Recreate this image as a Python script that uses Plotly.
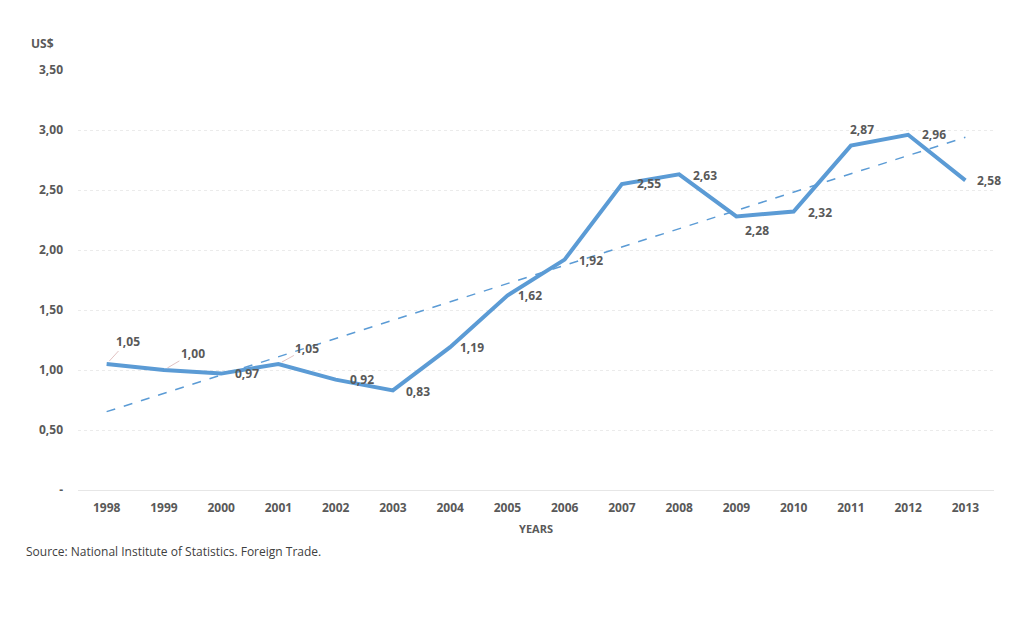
import numpy as np
import plotly.graph_objects as go

years = ["1998", "1999", "2000", "2001", "2002", "2003", "2004", "2005",
         "2006", "2007", "2008", "2009", "2010", "2011", "2012", "2013"]
values = [1.05, 1.00, 0.97, 1.05, 0.92, 0.83, 1.19, 1.62,
          1.92, 2.55, 2.63, 2.28, 2.32, 2.87, 2.96, 2.58]
y_tickvals = [0, 0.5, 1.0, 1.5, 2.0, 2.5, 3.0, 3.5]
y_ticktext = ["-", "0,50", "1,00", "1,50", "2,00", "2,50", "3,00", "3,50"]

# linear trendline computed from the data
idx = np.arange(len(values))
slope, intercept = np.polyfit(idx, values, 1)
trend = slope * idx + intercept

BLUE = "#5B9BD5"
TXT = "#595959"
FONT = "Open Sans"

fig = go.Figure()
fig.add_trace(go.Scatter(x=years, y=values, mode="lines",
                         line=dict(color=BLUE, width=4), showlegend=False))
fig.add_trace(go.Scatter(x=years, y=trend, mode="lines",
                         line=dict(color=BLUE, width=1.5, dash="dash"),
                         showlegend=False))

# label placement (pixel offsets) and whether a leader line is drawn
label_style = [
    (21, -23, True), (29, -17, True), (26, 0, False), (29, -16, True),
    (26, 0, False), (25, 1, False), (22, 0, False), (23, 0, False),
    (26, 1, False), (27, -1, False), (26, 1, False), (21, 14, False),
    (26, 1, False), (11, -16, False), (26, 0, False), (24, 0, False),
]

lab_font = dict(family=FONT, size=12, color=TXT, weight="bold")
for i, (v, (dx, dy, leader)) in enumerate(zip(values, label_style)):
    txt = f"{v:.2f}".replace(".", ",")
    if leader:
        fig.add_annotation(x=i, y=v, xref="x", yref="y", text=txt,
                           showarrow=True, ax=dx, ay=dy, arrowhead=0,
                           arrowwidth=0.8, arrowcolor="#d9b3b3", standoff=4,
                           font=lab_font)
    else:
        fig.add_annotation(x=i, y=v, xref="x", yref="y", text=txt,
                           showarrow=False, xshift=dx, yshift=-dy,
                           font=lab_font)

W, H = 1024, 636
ml, mr, mt, mb = 78, 30, 70, 146
pw, ph = W - ml - mr, H - mt - mb

def px_to_paper(px, py):
    return (px - ml) / pw, 1 - (py - mt) / ph

ux, uy = px_to_paper(42, 43)
sx, sy = px_to_paper(24, 551)
fig.add_annotation(text="US$", x=ux, y=uy, xref="paper", yref="paper",
                   showarrow=False, xanchor="center", yanchor="middle",
                   font=dict(family=FONT, size=12, color=TXT, weight="bold"))
fig.add_annotation(text="Source: National Institute of Statistics. Foreign Trade.",
                   x=sx, y=sy, xref="paper", yref="paper", showarrow=False,
                   xanchor="left", yanchor="middle",
                   font=dict(family=FONT, size=12, color="#404040"))

fig.update_layout(
    width=W, height=H,
    margin=dict(l=ml, r=mr, t=mt, b=mb),
    paper_bgcolor="white", plot_bgcolor="white",
    separators=",.",
    xaxis=dict(
        type="category", showgrid=False, zeroline=False,
        showline=False, ticks="", ticklabelstandoff=9,
        tickfont=dict(family=FONT, size=12, color=TXT, weight="bold"),
        title=dict(text="YEARS", standoff=10,
                   font=dict(family=FONT, size=11, color=TXT, weight="bold")),
        range=[-0.5, len(years) - 0.5],
    ),
    yaxis=dict(
        range=[0, 3.5], tickvals=y_tickvals, ticktext=y_ticktext,
        showgrid=True, gridcolor="#ebebeb", gridwidth=1, griddash="dot",
        zeroline=True, zerolinecolor="#e6e6e6", zerolinewidth=1,
        showline=False, ticks="", ticklabelstandoff=14,
        tickfont=dict(family=FONT, size=12, color=TXT, weight="bold"),
    ),
    hovermode=False,
)

fig.write_html("out.html", config={"displayModeBar": False},
               post_script="document.body.style.margin='0';")
